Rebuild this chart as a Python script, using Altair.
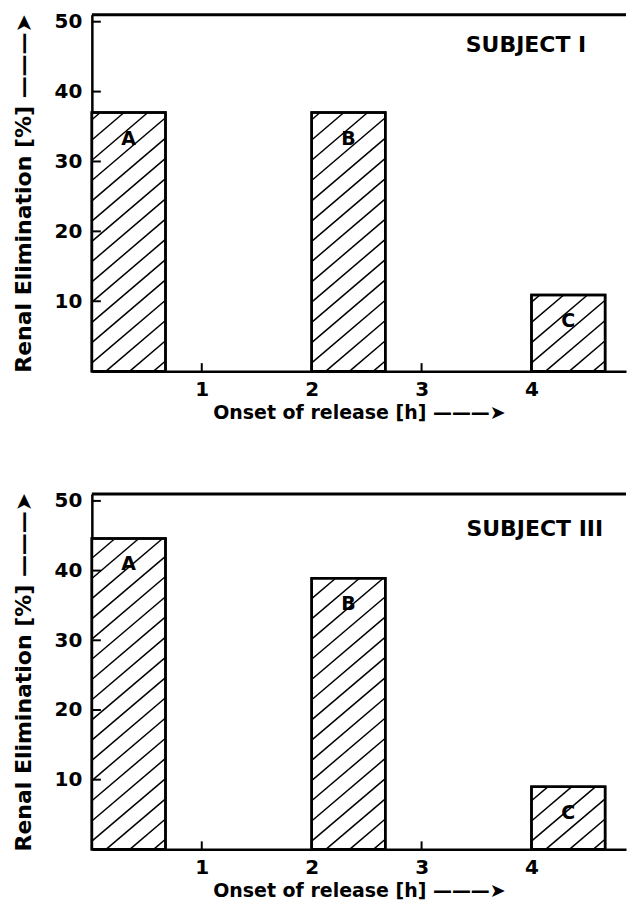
import altair as alt
import pandas as pd

# ---- data ----
bar_labels = ["A", "B", "C"]
bar_start = [0.0, 2.0, 4.0]          # onset of release [h]
bar_end = [0.67, 2.67, 4.67]
subj1_values = [37.0, 37.0, 10.9]     # Renal elimination [%], subject I
subj3_values = [44.6, 38.9, 9.0]      # Renal elimination [%], subject III
subject_names = ["SUBJECT I", "SUBJECT III"]
subject_text_x = [3.95, 4.03]
subject_text_y = [46.6, 46.0]
x_tick_values = [1, 2, 3, 4]
y_tick_values = [10, 20, 30, 40, 50]

X_MAX = 4.86
Y_MAX = 51.0
W = 535
FONT = "DejaVu Sans"


def hatch_segments(starts, ends, values, slope=13.4, step=2.9):
    """Diagonal hatch lines clipped to each bar rectangle (data units)."""
    rows = []
    for x0, x1, h in zip(starts, ends, values):
        w = x1 - x0
        c = -slope * w + step / 2
        while c < h:
            xa = max(x0, x0 + (0 - c) / slope)
            xb = min(x1, x0 + (h - c) / slope)
            if xb > xa:
                rows.append({
                    "x": xa, "y": c + slope * (xa - x0),
                    "x2": xb, "y2": c + slope * (xb - x0),
                })
            c += step
    return pd.DataFrame(rows)


def panel(values, subject, sx, sy, height):
    bars = pd.DataFrame({"label": bar_labels, "start": bar_start,
                         "end": bar_end, "value": values})
    bars["mid"] = (bars["start"] + bars["end"]) / 2
    xs = alt.Scale(domain=[0, X_MAX], nice=False, zero=False)
    ys = alt.Scale(domain=[0, Y_MAX], nice=False)
    x_axis = alt.Axis(values=x_tick_values, format="d", ticks=False, grid=False,
                      domainColor="black", domainWidth=2.5,
                      labelFontSize=20, labelFont=FONT, labelFontWeight="bold",
                      labelColor="black", labelPadding=8,
                      title="Onset of release [h]   ———➤", titleFontSize=19,
                      titleFont=FONT, titleFontWeight="bold", titleColor="black",
                      titlePadding=4)
    y_axis = alt.Axis(values=y_tick_values, ticks=False, grid=False,
                      domainColor="black", domainWidth=2.5,
                      labelFontSize=20, labelFont=FONT, labelFontWeight="bold",
                      labelColor="black", labelPadding=10,
                      title="Renal Elimination [%] ———➤", titleFontSize=22,
                      titleFont=FONT, titleFontWeight="bold", titleColor="black",
                      titlePadding=19)

    rect = alt.Chart(bars).mark_rect(fill="white", stroke="black",
                                     strokeWidth=2.5).encode(
        x=alt.X("start:Q", scale=xs, axis=x_axis),
        x2="end:Q",
        y=alt.Y("value:Q", scale=ys, axis=y_axis),
        y2=alt.datum(0),
    )
    hatch = alt.Chart(hatch_segments(bar_start, bar_end, values)).mark_rule(
        color="black", strokeWidth=1.5).encode(
        x=alt.X("x:Q", scale=xs), x2="x2:Q",
        y=alt.Y("y:Q", scale=ys), y2="y2:Q",
    )
    outline = alt.Chart(bars).mark_rect(fill=None, stroke="black",
                                        strokeWidth=2.5).encode(
        x=alt.X("start:Q", scale=xs), x2="end:Q",
        y=alt.Y("value:Q", scale=ys), y2=alt.datum(0),
    )
    letters = alt.Chart(bars).mark_text(
        font=FONT, fontSize=19, fontWeight="bold", color="black", dy=26,
        baseline="middle", align="center").encode(
        x=alt.X("mid:Q", scale=xs), y=alt.Y("value:Q", scale=ys),
        text="label:N",
    )
    subj = alt.Chart(pd.DataFrame({"t": [subject], "x": [sx], "y": [sy]})).mark_text(
        font=FONT, fontSize=22, fontWeight="bold", color="black",
        align="center", baseline="middle").encode(
        x=alt.X("x:Q", scale=xs), y=alt.Y("y:Q", scale=ys), text="t:N")
    yt = alt.Chart(pd.DataFrame({"v": y_tick_values})).mark_rule(
        color="black", strokeWidth=2).encode(
        y=alt.Y("v:Q", scale=ys), x=alt.value(0), x2=alt.value(9))
    xt = alt.Chart(pd.DataFrame({"v": x_tick_values})).mark_rule(
        color="black", strokeWidth=2).encode(
        x=alt.X("v:Q", scale=xs), y=alt.value(height), y2=alt.value(height - 8))
    top = alt.Chart(pd.DataFrame({"v": [0]})).mark_rule(
        color="black", strokeWidth=3).encode(
        y=alt.value(0), x=alt.value(0), x2=alt.value(W))
    return alt.layer(rect, hatch, outline, letters, subj, yt, xt, top).properties(
        width=W, height=height)


p1 = panel(subj1_values, subject_names[0], subject_text_x[0], subject_text_y[0], 357)
p2 = panel(subj3_values, subject_names[1], subject_text_x[1], subject_text_y[1], 356)

chart = alt.vconcat(p1, p2, spacing=68).properties(
    padding={"top": 3, "left": 4, "right": 0, "bottom": 0},
    background="white",
).configure_view(stroke=None)

chart.save("out.html", embed_options={"renderer": "svg", "actions": False})
